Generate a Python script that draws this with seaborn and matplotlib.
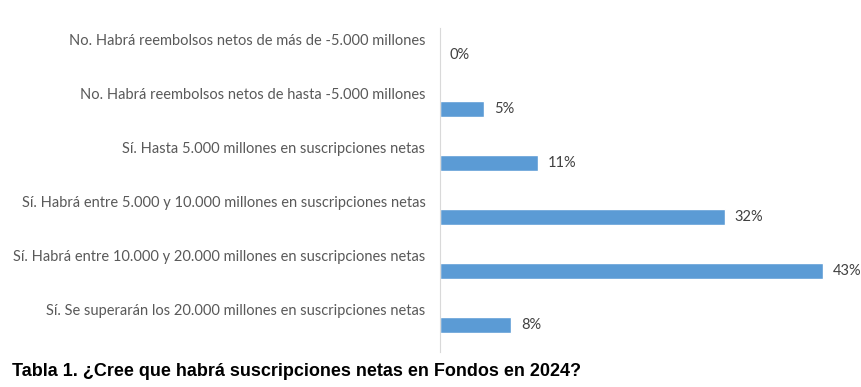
import pandas as pd
import seaborn as sns
import matplotlib.pyplot as plt
from matplotlib.ticker import FixedLocator

# Respuestas de la encuesta (porcentaje)
categorias = [
    "No. Habrá reembolsos netos de más de -5.000 millones",
    "No. Habrá reembolsos netos de hasta -5.000 millones",
    "Sí. Hasta 5.000 millones en suscripciones netas",
    "Sí. Habrá entre 5.000 y 10.000 millones en suscripciones netas",
    "Sí. Habrá entre 10.000 y 20.000 millones en suscripciones netas",
    "Sí. Se superarán los 20.000 millones en suscripciones netas",
]
porcentajes = [0, 5, 11, 32, 43, 8]
titulo = "Tabla 1. ¿Cree que habrá suscripciones netas en Fondos en 2024?"

df = pd.DataFrame({"respuesta": categorias, "pct": porcentajes})

sns.set_style("white")
plt.rcParams["font.family"] = ["Lato", "DejaVu Sans"]

fig = plt.figure(figsize=(8.62, 3.87), dpi=100)
ax = fig.add_axes([0.5104, 0.0904, 0.4896, 0.8372])

sns.barplot(data=df, x="pct", y="respuesta", orient="h", color="#5B9BD5",
            width=0.28, saturation=1, ax=ax)

ax.set_xlim(0, 47.4)
ax.set_ylim(5.5, -0.5)
ax.set_xlabel("")
ax.set_ylabel("")
ax.set_xticks([])

# etiquetas de categoría desplazadas hacia arriba, como en el original
n = len(categorias)
ax.set_yticks([i - 0.29 for i in range(n)])
ax.set_yticklabels(categorias, fontsize=10.5, color="#595959")
ax.tick_params(axis="y", which="major", length=0, pad=10.5)
ax.yaxis.set_minor_locator(FixedLocator([i - 0.5 for i in range(n + 1)]))
ax.tick_params(axis="y", which="minor", length=4, color="#d9d9d9", width=0.8)

for s in ["top", "right", "bottom"]:
    ax.spines[s].set_visible(False)
ax.spines["left"].set_color("#d9d9d9")
ax.spines["left"].set_linewidth(0.8)

for i, v in enumerate(porcentajes):
    ax.text(v + 1.1, i, f"{v}%", va="center", ha="left", fontsize=10.5, color="#404040")

fig.text(0.014, 0.040, titulo, fontsize=13, fontweight="bold", color="black",
         family=["Liberation Sans", "DejaVu Sans"], va="center")

fig.savefig("out.png", dpi=100)
